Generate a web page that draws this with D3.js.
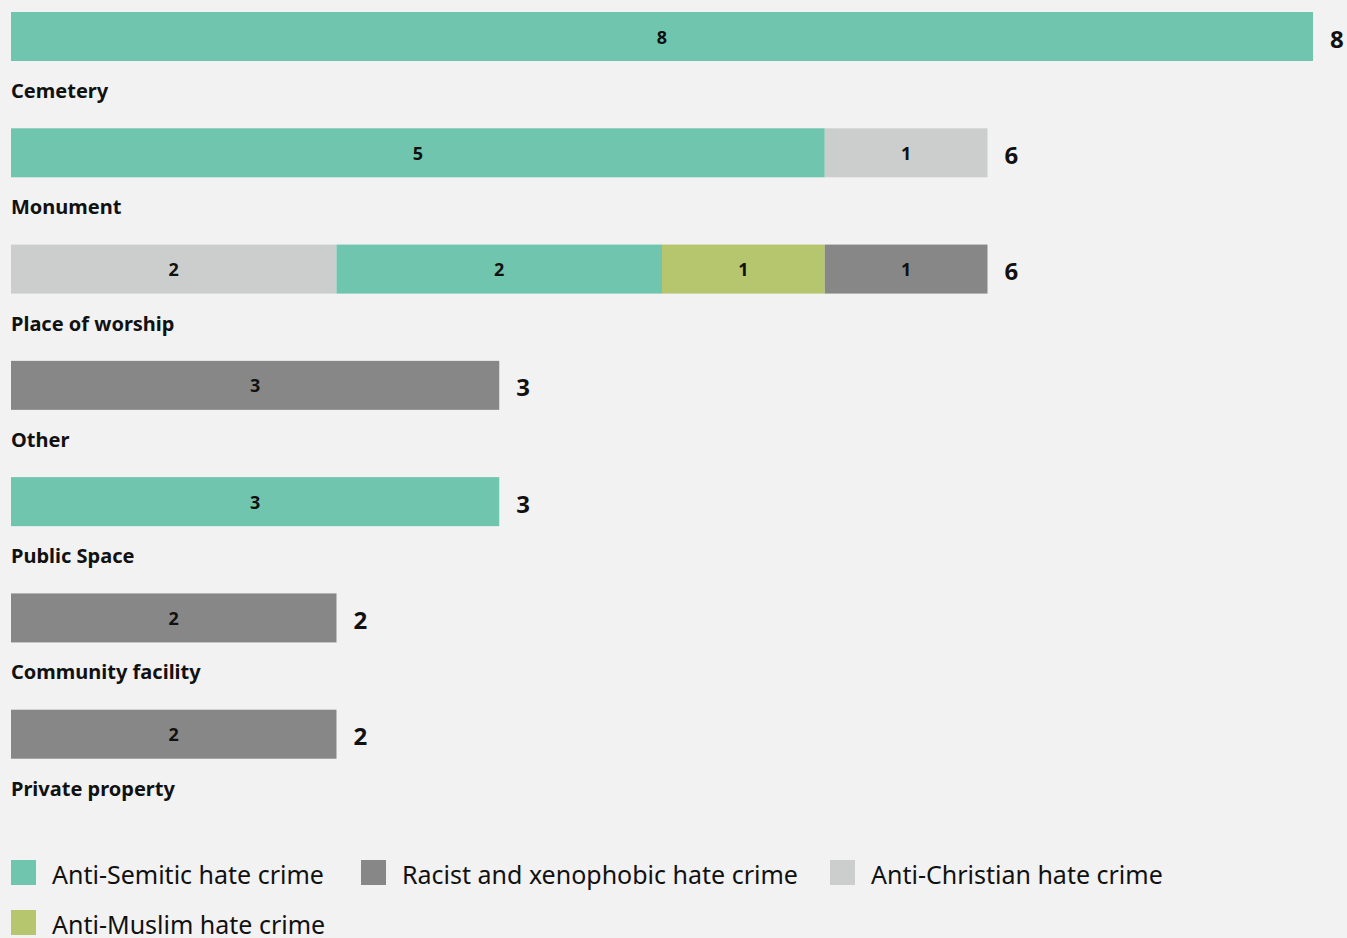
<!DOCTYPE html>
<html><head><meta charset="utf-8">
<script src="https://cdn.jsdelivr.net/npm/d3@7"></script>
<style>
html,body{margin:0;padding:0;background:#f2f2f2;}
svg{display:block;font-family:"Noto Sans","Open Sans",sans-serif;}
</style></head>
<body><svg id="chart" width="1347" height="938"></svg>
<script>
const categories = ["Cemetery","Monument","Place of worship","Other","Public Space","Community facility","Private property"];
const seriesKeys = ["Anti-Christian hate crime","Anti-Semitic hate crime","Anti-Muslim hate crime","Racist and xenophobic hate crime"];
const antiChristian = [0,1,2,0,0,0,0];
const antiSemitic   = [8,5,2,0,3,0,0];
const antiMuslim    = [0,0,1,0,0,0,0];
const racist        = [0,0,1,3,0,2,2];
const seriesValues = [antiChristian, antiSemitic, antiMuslim, racist];
const colors = ["#cbcecd","#6fc5ad","#b5c66f","#878787"];
const legendOrder = ["Anti-Semitic hate crime","Racist and xenophobic hate crime","Anti-Christian hate crime","Anti-Muslim hate crime"];

const svg = d3.select("#chart");
const x = d3.scaleLinear().domain([0,8]).range([11,1313]);
const y = d3.scaleBand().domain(categories).range([12,826]).paddingInner(0).paddingOuter(0);
const barH = 49;
const color = d3.scaleOrdinal().domain(seriesKeys).range(colors);

categories.forEach((cat,i)=>{
  let segs = seriesKeys.map((k,j)=>({key:k, order:j, value:seriesValues[j][i]})).filter(s=>s.value>0);
  segs.sort((a,b)=> b.value-a.value || a.order-b.order);
  let acc=0;
  segs.forEach(s=>{s.x0=acc; acc+=s.value; s.x1=acc;});
  const g = svg.append("g").attr("transform",`translate(0,${y(cat)})`);
  g.selectAll("rect").data(segs).join("rect")
    .attr("x",d=>x(d.x0)).attr("width",d=>x(d.x1)-x(d.x0))
    .attr("y",0).attr("height",barH).attr("fill",d=>color(d.key));
  g.selectAll("text.v").data(segs).join("text").attr("class","v")
    .attr("x",d=>(x(d.x0)+x(d.x1))/2).attr("y",barH/2+7)
    .attr("text-anchor","middle").attr("font-size",18).attr("font-weight","bold").attr("fill","#111")
    .text(d=>d.value);
  g.append("text").attr("x",x(acc)+17).attr("y",barH/2+11)
    .attr("font-size",24).attr("font-weight","bold").attr("fill","#111").text(acc);
  g.append("text").attr("x",11).attr("y",86)
    .attr("font-size",20).attr("font-weight","bold").attr("fill","#111").text(cat);
});

const legX = [11,361,830,11];
const legY = [860,860,860,910];
legendOrder.forEach((k,i)=>{
  svg.append("rect").attr("x",legX[i]).attr("y",legY[i]).attr("width",25).attr("height",25).attr("fill",color(k));
  svg.append("text").attr("x",legX[i]+41).attr("y",legY[i]+24).attr("font-size",25).attr("fill","#111").text(k);
});
</script></body></html>
